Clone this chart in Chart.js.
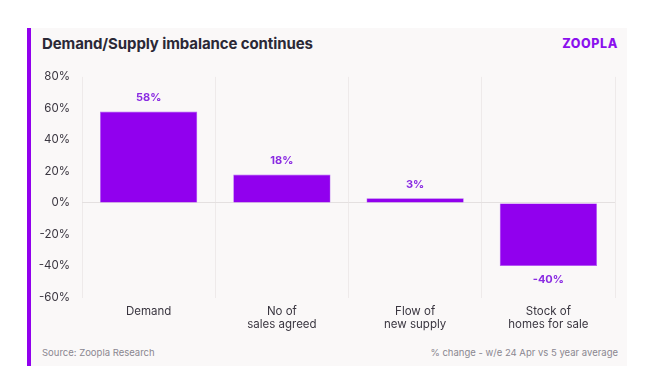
<!DOCTYPE html>
<html>
<head>
<meta charset="utf-8">
<script src="https://cdn.jsdelivr.net/npm/chart.js@4"></script>
<style>
  html, body { margin:0; padding:0; background:#ffffff; width:659px; height:376px; overflow:hidden; font-family: Inter, "Open Sans", sans-serif; }
  #card { position:absolute; left:27px; top:28px; width:600px; height:338px; background:#faf8f8; }
  #strip { position:absolute; left:27px; top:28px; width:4px; height:338px; background:#9100ee; }
  #title { position:absolute; left:42px; top:34px; font-size:15px; font-weight:700; color:#2b2836; letter-spacing:-0.1px; }
  #logo { position:absolute; right:41px; top:36px; font-size:12.5px; font-weight:800; color:#8a10ee; letter-spacing:0.6px; }
  #src { position:absolute; left:42px; top:347px; font-size:9.5px; color:#8a8790; }
  #note { position:absolute; right:41px; top:347px; font-size:9.5px; color:#8a8790; }
  #wrap { position:absolute; left:27px; top:58px; width:600px; height:280px; }
</style>
</head>
<body>
<div id="card"></div>
<div id="strip"></div>
<div id="title">Demand/Supply imbalance continues</div>
<div id="logo">ZOOPLA</div>
<div id="wrap"><canvas id="c" width="600" height="280"></canvas></div>
<div id="src">Source: Zoopla Research</div>
<div id="note">% change - w/e 24 Apr vs 5 year average</div>
<script>
const categories = [["Demand"], ["No of", "sales agreed"], ["Flow of", "new supply"], ["Stock of", "homes for sale"]];
const values = [58, 18, 3, -40];
const yTicks = [-60, -40, -20, 0, 20, 40, 60, 80];

const labelPlugin = {
  id: 'valueLabels',
  afterDatasetsDraw(chart) {
    const ctx = chart.ctx;
    const meta = chart.getDatasetMeta(0);
    ctx.save();
    ctx.font = '700 11px Inter, sans-serif';
    ctx.fillStyle = '#8a2be2';
    ctx.textAlign = 'center';
    meta.data.forEach((bar, i) => {
      const v = values[i];
      if (v >= 0) {
        ctx.textBaseline = 'bottom';
        ctx.fillText(v + '%', bar.x, bar.y - 8);
      } else {
        ctx.textBaseline = 'top';
        ctx.fillText(v + '%', bar.x, bar.y + 8);
      }
    });
    ctx.restore();
  }
};

new Chart(document.getElementById('c'), {
  type: 'bar',
  data: {
    labels: categories,
    datasets: [{
      data: values,
      backgroundColor: '#9100ee',
      borderColor: '#b060f4',
      borderWidth: 0.6,
      categoryPercentage: 1.0,
      barPercentage: 0.73
    }]
  },
  options: {
    responsive: false,
    animation: false,
    layout: { padding: { left: 0, right: 12, top: 12, bottom: 0 } },
    plugins: { legend: { display: false }, tooltip: { enabled: false } },
    scales: {
      x: {
        grid: { offset: true, color: '#eeeaea', lineWidth: 1, drawTicks: false },
        border: { display: false },
        ticks: { color: '#3a3640', font: { family: 'Inter', size: 11.5, lineHeight: 1.15 }, padding: 7, maxRotation: 0 }
      },
      y: {
        min: -60, max: 80,
        afterBuildTicks(scale) { scale.ticks = yTicks.map(v => ({ value: v })); },
        afterFit(scale) { scale.width = 55; },
        grid: {
          color: ctx => ctx.tick && ctx.tick.value === 0 ? '#e4e0e0' : 'rgba(0,0,0,0)',
          drawTicks: false
        },
        border: { display: false },
        ticks: { color: '#3a3640', font: { family: 'Inter', size: 11.5 }, padding: 12, callback: v => v + '%' }
      }
    }
  },
  plugins: [labelPlugin]
});
</script>
</body>
</html>
